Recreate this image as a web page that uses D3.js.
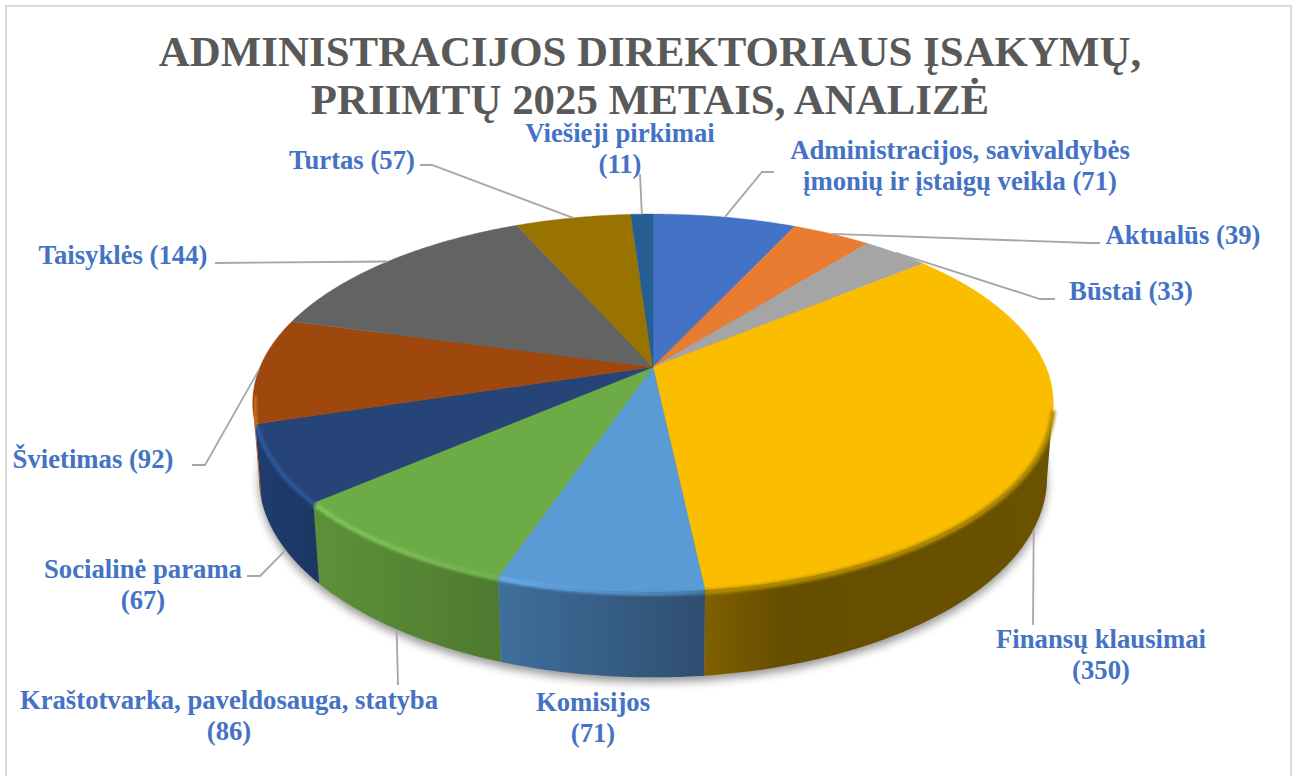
<!DOCTYPE html>
<html><head><meta charset="utf-8">
<script src="https://cdnjs.cloudflare.com/ajax/libs/d3/7.8.5/d3.min.js"></script>
<style>html,body{margin:0;padding:0;background:#fff;overflow:hidden}svg{display:block}text{font-family:"Liberation Serif",serif;font-weight:bold}</style>
</head><body><svg id="c" width="1299" height="776"></svg>
<script>
const titleLines = ["ADMINISTRACIJOS DIREKTORIAUS ĮSAKYMŲ,", "PRIIMTŲ 2025 METAIS, ANALIZĖ"];
const categories = ["Administracijos, savivaldybės įmonių ir įstaigų veikla","Aktualūs","Būstai","Finansų klausimai","Komisijos","Kraštotvarka, paveldosauga, statyba","Socialinė parama","Švietimas","Taisyklės","Turtas","Viešieji pirkimai"];
const values = [71,39,33,350,71,86,67,92,144,57,11];
const labelLines = [
  ["Administracijos, savivaldybės","įmonių ir įstaigų veikla (71)"],["Aktualūs (39)"],["Būstai (33)"],
  ["Finansų klausimai","(350)"],["Komisijos","(71)"],["Kraštotvarka, paveldosauga, statyba","(86)"],
  ["Socialinė parama","(67)"],["Švietimas (92)"],["Taisyklės (144)"],["Turtas (57)"],["Viešieji pirkimai","(11)"]];
const topColors = ["#4472C4","#E97C30","#A5A5A5","#FBBD00","#5B9BD5","#6DAB47","#264478","#9E480E","#636363","#997300","#255E91"];
const sideLeft  = ["#33558f","#ad5d24","#7b7b7b","#806000","#3f6f9c","#5c9139","#1f3c6d","#c05f12","#4a4a4a","#725600","#1c466c"];
const sideRight = ["#33558f","#ad5d24","#7b7b7b","#6a5200","#2f4e70","#4e7a30","#1c3763","#a34f0e","#4a4a4a","#725600","#1c466c"];
const rimStart = ["#4472C4","#E97C30","#A5A5A5","#b38c00","#70b8f8","#86cc5e","#2c5a9c","#d06a1c","#636363","#997300","#255E91"];
const rimEnd   = ["#4472C4","#E97C30","#A5A5A5","#b38c00","#4a85b8","#7abb52","#2c5a9c","#d06a1c","#636363","#997300","#255E91"];
const labelCenters = [[960,159],[1183,244],[1131,300],[1101,648],[593,711],[229,709],[143,578],[93,468],[123,264],[352,169],[620,142]];
const leaderElbows = [[[762,172],[774,172]],[[1090,243],[1100,243]],[[1040,299],[1055,299]],[[1033,625]],null,[[398,685]],[[260,576],[247,576]],[[205,465],[192,465]],[[215,263]],[[432,165],[420,165]],[[640,174]]];
const leaderAngleShift = [0,0,0,3,0,0,-2,0,0,0,0];
const leaderOnBase = [false,false,false,true,false,true,true,false,false,false,false];

const svg = d3.select("#c");
const defs = svg.append("defs");
const cx = 653, cy = 367, A = 393, B = 182, k = 0.19, D = 73, baseR = 0.985;
const blur = (id,s)=>defs.append("filter").attr("id",id).attr("x","-20%").attr("y","-20%").attr("width","140%").attr("height","140%").append("feGaussianBlur").attr("stdDeviation",s);
blur("sh",5); blur("rim",1.5);

const proj = (a,d=0,r=1)=>{
  const u=Math.sin(a)*r, v=-Math.cos(a)*r, w=1-k*v;
  return [cx+A*u/w, cy+B*v/w+d*D/w];
};
const line = d3.line();
const arcs = d3.pie().sort(null).value(d=>d).startAngle(0).endAngle(2*Math.PI)(values);
const samples = (a0,a1,d=0,r=1)=>d3.range(0,61).map(i=>proj(a0+(a1-a0)*i/60,d,r));
const deg = Math.PI/180, vis0 = 101*deg, vis1 = 259*deg;

svg.append("path").attr("d",`M6,776V6H1291V776`).attr("fill","none").attr("stroke","#d9d9d9").attr("stroke-width",2);

// shadow
svg.append("path").attr("d",line(samples(0,2*Math.PI,1,baseR))+"Z").attr("transform","translate(0,5)")
  .attr("fill","#000").attr("opacity",0.42).attr("filter","url(#sh)");

// side walls
arcs.forEach((s,i)=>{
  const a0=Math.max(s.startAngle,vis0), a1=Math.min(s.endAngle,vis1);
  if(a1<=a0) return;
  const g=defs.append("linearGradient").attr("id","g"+i);
  g.append("stop").attr("offset",0).attr("stop-color",sideLeft[i]);
  if(i==3) g.append("stop").attr("offset",0.22).attr("stop-color","#664e00");
  g.append("stop").attr("offset",1).attr("stop-color",sideRight[i]);
  const pts=samples(a0,a1,0).concat(samples(a1,a0,1,baseR));
  svg.append("path").attr("d",line(pts)+"Z").attr("fill",`url(#g${i})`);
});

// top surface
arcs.forEach((s,i)=>{
  const pts=[[cx,cy]].concat(samples(s.startAngle,s.endAngle));
  svg.append("path").attr("d",line(pts)+"Z").attr("fill",topColors[i]).attr("stroke",topColors[i]).attr("stroke-width",0.4);
});

// bevel along the front rim
arcs.forEach((s,i)=>{
  const a0=Math.max(s.startAngle,vis0+0.03), a1=Math.min(s.endAngle,vis1+(i==7?0.05:0));
  if(a1<=a0) return;
  const rg=defs.append("linearGradient").attr("id","r"+i);
  rg.append("stop").attr("offset",0).attr("stop-color",rimStart[i]);
  rg.append("stop").attr("offset",1).attr("stop-color",rimEnd[i]);
  const sp = i==3 ? samples(a0,a1,0.02,1) : samples(a0,a1,0.035,0.995);
  svg.append("path").attr("d",line(sp)).attr("fill","none")
    .attr("stroke",`url(#r${i})`).attr("stroke-width",i==3?5:4).attr("filter","url(#rim)");
});

// leaders
arcs.forEach((s,i)=>{
  if(!leaderElbows[i]) return;
  const mid=(s.startAngle+s.endAngle)/2+leaderAngleShift[i]*deg;
  const pts=[leaderOnBase[i]?proj(mid,1,baseR):proj(mid,0)].concat(leaderElbows[i]);
  svg.append("path").attr("d",line(pts)).attr("fill","none").attr("stroke","#a6a6a6").attr("stroke-width",1.8);
});

// title
svg.append("g").selectAll("text").data(titleLines).join("text")
  .attr("x",650).attr("y",(d,i)=>66+i*48).attr("text-anchor","middle")
  .attr("font-size",42.9).attr("fill","#595959").text(d=>d);

// labels
arcs.forEach((s,i)=>{
  const t=svg.append("text").attr("text-anchor","middle").attr("font-size",26.7).attr("fill","#4472C4");
  labelLines[i].forEach((l,j)=>t.append("tspan").attr("x",labelCenters[i][0]).attr("y",labelCenters[i][1]+j*31).text(l));
});
</script></body></html>
